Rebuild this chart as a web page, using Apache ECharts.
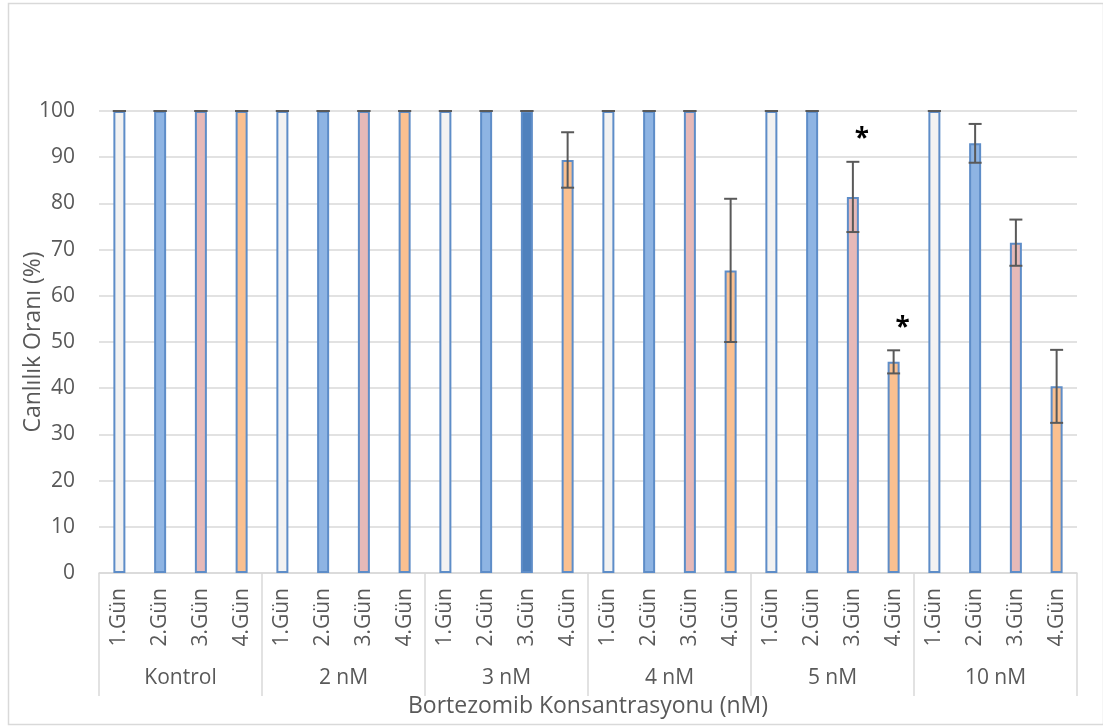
<!DOCTYPE html>
<html>
<head>
<meta charset="utf-8">
<script src="https://cdn.jsdelivr.net/npm/echarts@6/dist/echarts.min.js"></script>
<style>
html,body{margin:0;padding:0;background:#fff;overflow:hidden;}
#c{width:1103px;height:726px;}
</style>
</head>
<body>
<div id="c"></div>
<script>
// ---- data ----
const groups = ['Kontrol', '2 nM', '3 nM', '4 nM', '5 nM', '10 nM'];
const days = ['1.Gün', '2.Gün', '3.Gün', '4.Gün'];
const day1 = [100, 100, 100, 100, 100, 100];
const day2 = [100, 100, 100, 100, 100, 93.0];
const day3 = [100, 100, 100, 100, 81.4, 71.5];
const day4 = [100, 100, 89.4, 65.5, 45.7, 40.4];
const err1 = [0, 0, 0, 0, 0, 0];
const err2 = [0, 0, 0, 0, 0, 4.2];
const err3 = [0, 0, 0, 0, 7.6, 5.0];
const err4 = [0, 0, 6.0, 15.5, 2.5, 7.9];
const starMarks = [['5 nM', '3.Gün'], ['5 nM', '4.Gün']];
const yTicks = [0, 10, 20, 30, 40, 50, 60, 70, 80, 90, 100];

// ---- styles ----
const dayFill = ['#f2f2f2', '#8eb4e3', '#e6b9b8', '#fac090'];
const specialFill = { '3 nM|3.Gün': '#4f81bd' };
const textColor = '#595959';
const fontFam = '"Open Sans", "Noto Sans", sans-serif';

const dayVals = [day1, day2, day3, day4];
const dayErrs = [err1, err2, err3, err4];
const cats = [];
const barData = [];
const errData = [];
groups.forEach((g, gi) => {
  days.forEach((d, di) => {
    const idx = cats.length;
    cats.push(d);
    const v = dayVals[di][gi];
    const e = dayErrs[di][gi];
    barData.push({
      value: v,
      itemStyle: { color: specialFill[g + '|' + d] || dayFill[di] }
    });
    errData.push([idx, v, e]);
  });
});
const starData = starMarks.map(([g, d]) => {
  const gi = groups.indexOf(g), di = days.indexOf(d);
  const idx = gi * days.length + di;
  return [idx, dayVals[di][gi] + dayErrs[di][gi]];
});

const chart = echarts.init(document.getElementById('c'), null, { renderer: 'canvas' });
chart.setOption({
  backgroundColor: '#fff',
  animation: false,
  textStyle: { fontFamily: fontFam },
  graphic: [{
    type: 'rect', left: 6, top: 1, shape: { width: 1095, height: 721 },
    style: { fill: 'none', stroke: '#d9d9d9', lineWidth: 1.5 }, silent: true, z: -1
  }],
  grid: { left: 99, right: 26, top: 111, bottom: 153, containLabel: false },
  xAxis: [{
    type: 'category',
    data: cats,
    position: 'bottom',
    axisLine: { show: true, lineStyle: { color: '#d9d9d9', width: 1.5 } },
    axisTick: { show: false },
    axisLabel: { interval: 0, rotate: 90, margin: 15, color: textColor, fontSize: 21, fontFamily: fontFam },
    splitLine: { show: false }
  }, {
    type: 'category',
    data: groups,
    position: 'bottom',
    axisLine: { show: false },
    axisTick: { show: true, length: 123, lineStyle: { color: '#d9d9d9', width: 1.5 } },
    axisLabel: { interval: 0, margin: 95, color: textColor, fontSize: 21, fontFamily: fontFam },
    name: 'Bortezomib Konsantrasyonu (nM)',
    nameLocation: 'middle',
    nameGap: 122,
    nameMoveOverlap: false,
    nameTextStyle: { color: textColor, fontSize: 23, fontFamily: fontFam }
  }],
  yAxis: {
    type: 'value',
    min: yTicks[0],
    max: yTicks[yTicks.length - 1],
    interval: yTicks[1] - yTicks[0],
    axisLine: { show: false },
    axisTick: { show: false },
    axisLabel: { margin: 24, color: textColor, fontSize: 21, fontFamily: fontFam },
    splitLine: { lineStyle: { color: '#d9d9d9', width: 1.5 } },
    name: 'Canlılık Oranı (%)',
    nameLocation: 'middle',
    nameRotate: 90,
    nameGap: 54,
    nameMoveOverlap: false,
    nameTextStyle: { color: textColor, fontSize: 23, fontFamily: fontFam }
  },
  series: [{
    type: 'bar',
    xAxisIndex: 0,
    data: barData,
    barWidth: 12,
    itemStyle: { borderColor: '#5e8dc8', borderWidth: 2 },
    z: 2
  }, {
    type: 'custom',
    xAxisIndex: 0,
    data: errData,
    z: 5,
    renderItem: function (params, api) {
      const x = api.value(0), v = api.value(1), e = api.value(2);
      const top = api.coord([x, v + e]);
      const bot = api.coord([x, v - e]);
      const hw = 6.5;
      const st = { stroke: '#595959', lineWidth: 2 };
      return {
        type: 'group',
        children: [
          { type: 'line', shape: { x1: top[0], y1: top[1], x2: bot[0], y2: bot[1] }, style: st },
          { type: 'line', shape: { x1: top[0] - hw, y1: top[1], x2: top[0] + hw, y2: top[1] }, style: st },
          { type: 'line', shape: { x1: bot[0] - hw, y1: bot[1], x2: bot[0] + hw, y2: bot[1] }, style: st }
        ]
      };
    }
  }, {
    type: 'custom',
    xAxisIndex: 0,
    data: starData,
    z: 6,
    renderItem: function (params, api) {
      const p = api.coord([api.value(0), api.value(1)]);
      return {
        type: 'text',
        style: {
          text: '*', x: p[0] + 9, y: p[1] - 22,
          fill: '#000', font: 'bold 26px ' + fontFam,
          textAlign: 'center', textVerticalAlign: 'middle'
        }
      };
    }
  }]
});
</script>
</body>
</html>
